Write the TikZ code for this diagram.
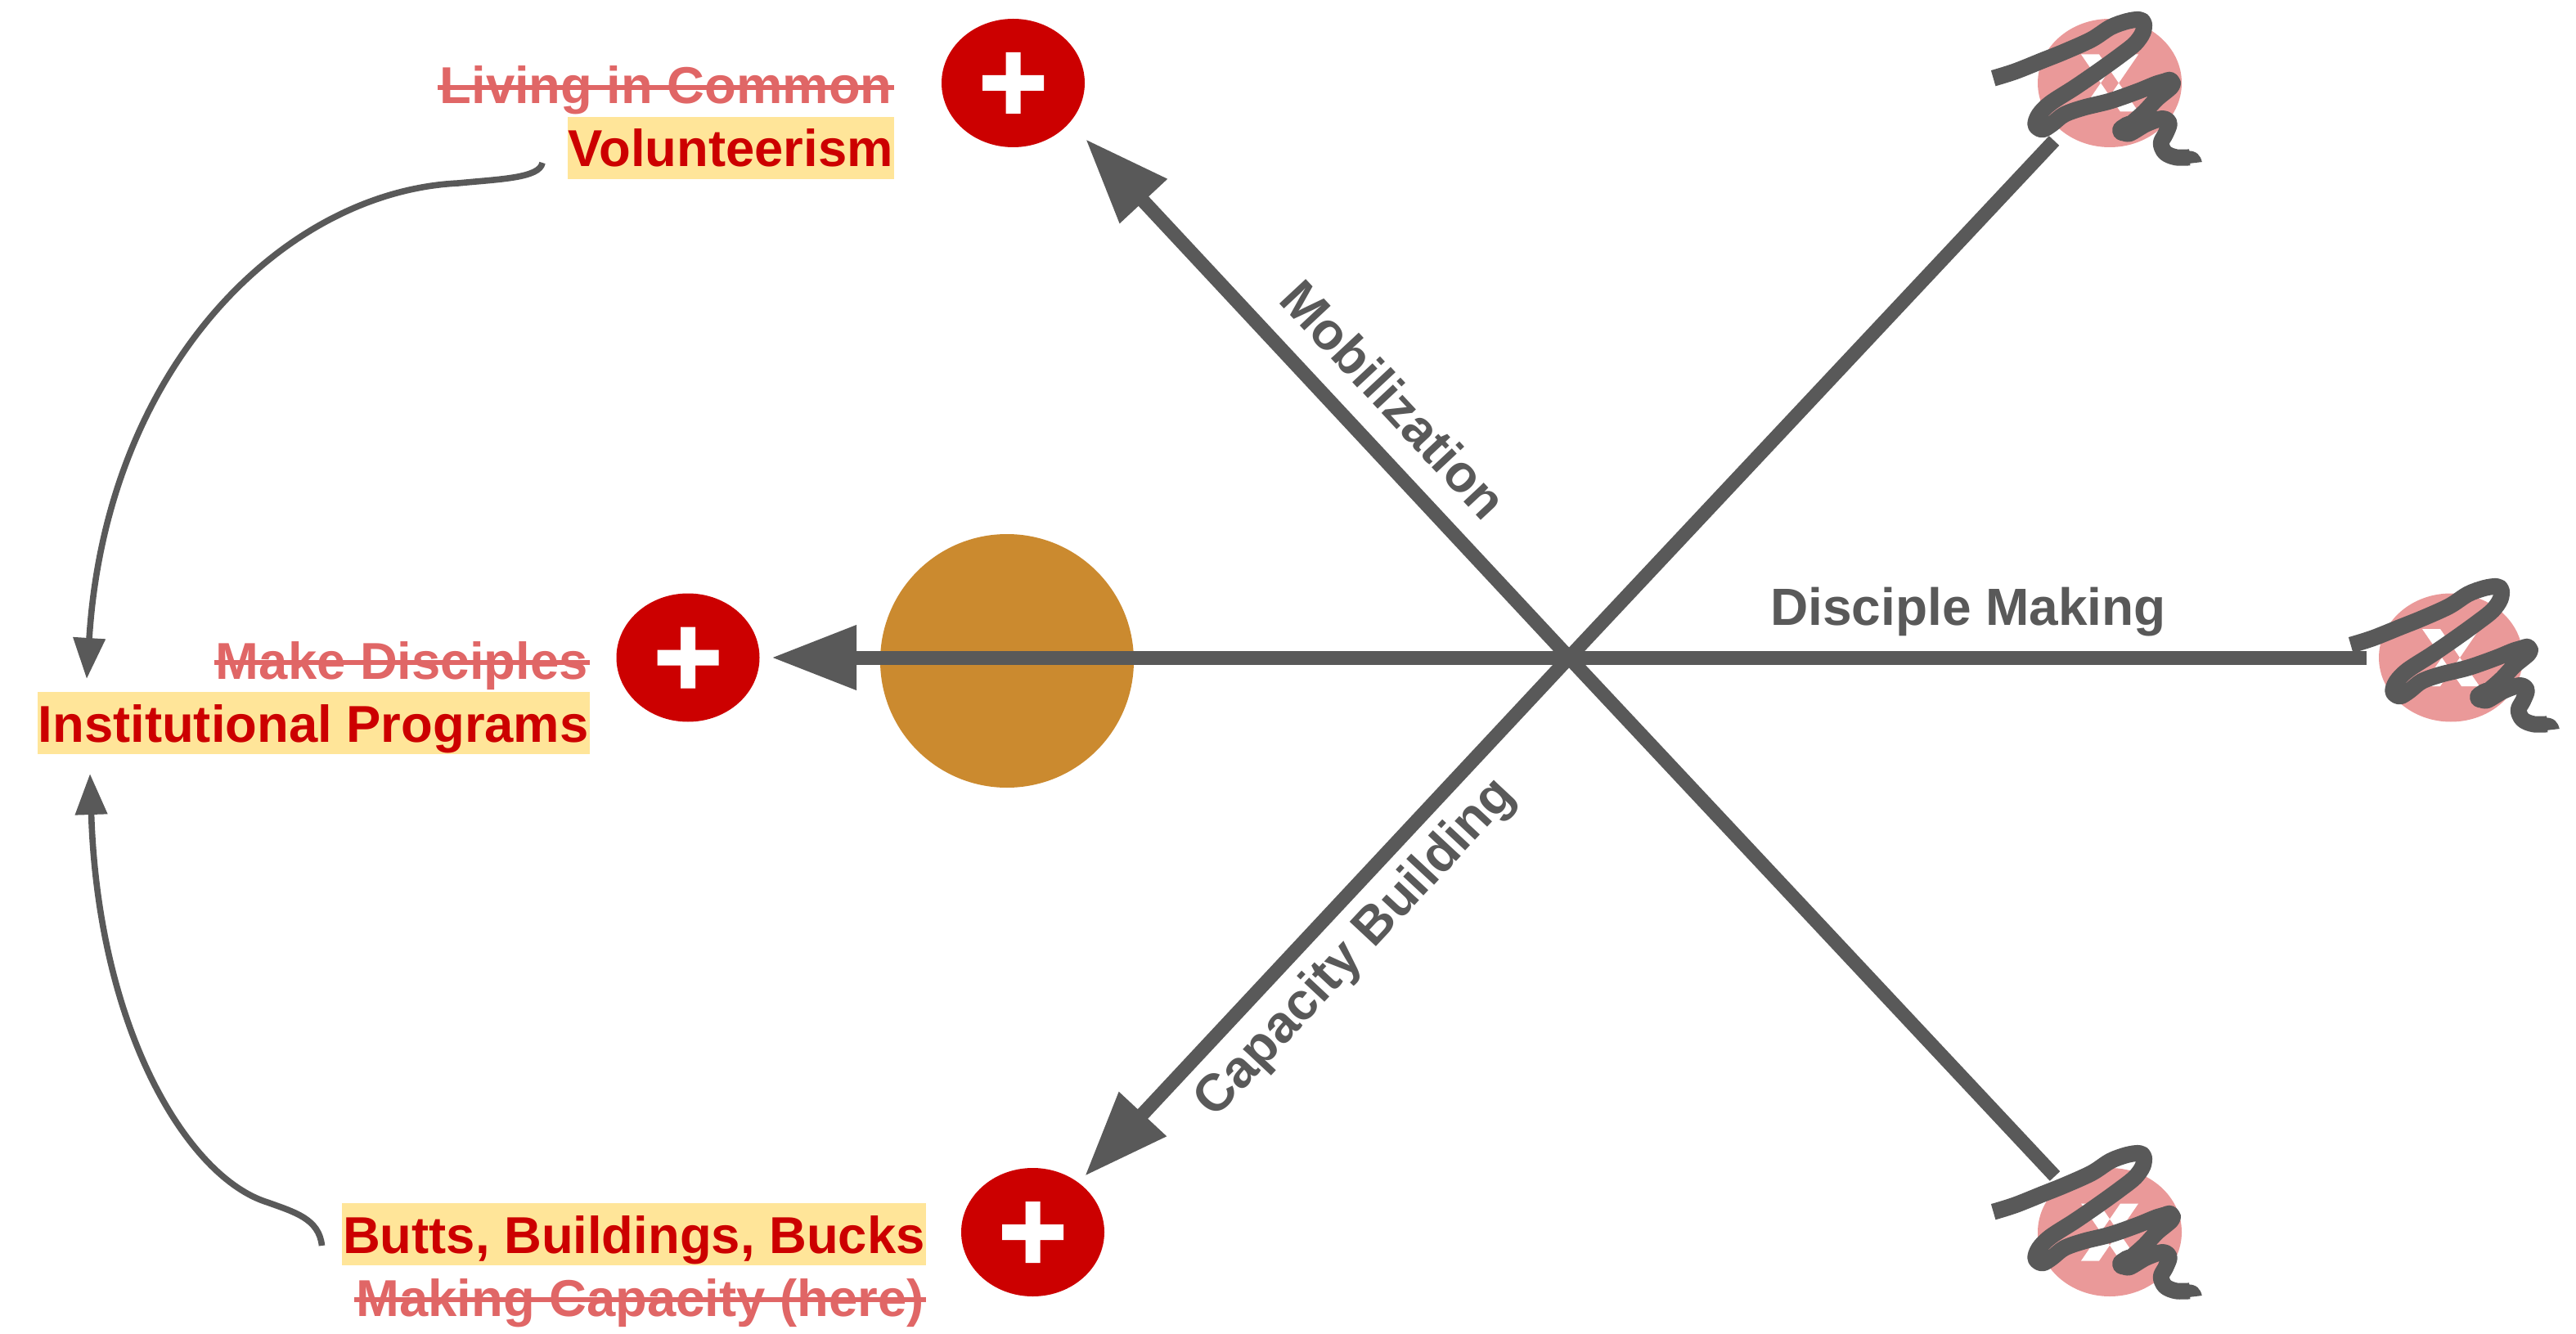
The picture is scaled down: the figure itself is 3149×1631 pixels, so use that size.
\documentclass[tikz,border=0pt]{standalone}
\usepackage{fontspec}
\setmainfont{Liberation Sans}
\usetikzlibrary{arrows.meta,shapes.geometric,calc}
\definecolor{gr}{HTML}{595959}
\definecolor{rd}{HTML}{CC0000}
\definecolor{st}{HTML}{E06666}
\definecolor{pk}{HTML}{EA9999}
\definecolor{hl}{HTML}{FFE599}
\definecolor{orng}{HTML}{CB8A2F}
\tikzset{
  x=0.5pt,y=-0.5pt,
  redc/.style={ellipse,fill=rd,minimum width=87.5pt,minimum height=78.5pt,inner sep=0pt},
  pinkc/.style={ellipse,fill=pk,minimum width=88pt,minimum height=78.5pt,inner sep=0pt},
  hilite/.style={fill=hl,text=rd,font=\fontsize{31.7pt}{36pt}\selectfont\bfseries,anchor=base east,inner xsep=0.5pt,inner ysep=0pt,text height=30.5pt,text depth=7.5pt},
  struck/.style={text=st,font=\fontsize{31.7pt}{36pt}\selectfont\bfseries,anchor=base east,inner xsep=1pt,inner ysep=0pt},
  strike/.style={draw=st,line width=3pt},
  axis/.style={draw=gr,line width=8.5pt},
  axisarrow/.style={axis,-{Triangle[length=52pt,width=37.5pt]}},
  curvearrow/.style={draw=gr,line width=3.8pt,-{Triangle[length=25pt,width=19pt]}},
  lab/.style={text=gr,font=\fontsize{32pt}{36pt}\selectfont\bfseries,inner sep=0pt},
  scrib/.style={draw=gr,line width=10pt,line join=round},
  plusmark/.pic={\fill[white] (-37.5,-9.5) rectangle (37.5,9.5) (-9,-37.5) rectangle (9,37.5);},
  xmark/.pic={\fill[white] (-35,-35) -- (-13,-35) -- (35,35) -- (13,35) -- cycle (35,-35) -- (13,-35) -- (-35,35) -- (-13,35) -- cycle;},
  scribble/.pic={
    \begin{scope}[x=0.1667pt,y=-0.1667pt]
    \draw[scrib] plot[smooth,tension=0.55] coordinates {(170,287) (250,262) (350,222) (430,190) (530,145) (600,100) (660,78) (705,72) (722,85) (718,120) (690,160) (640,200) (560,258) (470,320) (380,378) (338,420) (325,458) (350,475) (385,455) (430,420) (500,395) (600,370) (700,335) (775,305) (822,297) (822,318) (770,362) (725,410) (680,450) (645,478) (668,490) (730,455) (790,435) (815,452) (802,490) (785,525) (800,560) (840,577) (890,577)};
    \fill[gr] (885,553) .. controls (915,553) and (930,570) .. (935,594) -- (885,600) -- cycle;
    \draw[gr,line width=13pt,line cap=round] (665,465) -- (645,478);
    \draw[gr,line width=13pt,line cap=round] (795,310) -- (815,302);
    \end{scope}}
}
\begin{document}
\begin{tikzpicture}
\useasboundingbox (0,0) rectangle (3149,1631);
% hub and line ends
\coordinate (hub) at (1918,804);
\coordinate (endUR) at (2511,172);
\coordinate (endR) at (2893,804);
\coordinate (endLR) at (2512,1438);
\coordinate (tipUL) at (1327,170);
\coordinate (tipL) at (943,804);
\coordinate (tipLL) at (1326,1438);
% orange disc
\node[circle,fill=orng,minimum size=155pt,inner sep=0pt] (disc) at (1231,808) {};
% red circles
\node[redc] (rtop) at (1238.5,101.5) {};
\node[redc] (rmid) at (841,804) {};
\node[redc] (rbot) at (1262.5,1506.5) {};
\pic at (rtop) {plusmark};
\pic at (rmid) {plusmark};
\pic at (rbot) {plusmark};
% pink circles
\node[pinkc] (ptop) at (2579,101.5) {};
\node[pinkc] (pmid) at (2996,804) {};
\node[pinkc] (pbot) at (2579,1506.5) {};
\pic at (ptop) {xmark};
\pic at (pmid) {xmark};
\pic at (pbot) {xmark};
% axes
\draw[axisarrow] (hub) -- (tipUL);
\draw[axisarrow] (hub) -- (tipL);
\draw[axisarrow] (hub) -- (tipLL);
\draw[axis] (hub) -- (endUR);
\draw[axis] (hub) -- (endR);
\draw[axis] (hub) -- (endLR);
% scribbles
\pic at (2380,0) {scribble};
\pic at (2817,693) {scribble};
\pic at (2380,1386) {scribble};
% labels on axes
\node[lab,rotate=-47] (lmob) at (1704,488) {Mobilization};
\node[lab] (ldm) at (2406,748) {Disciple Making};
\node[lab,rotate=47] (lcap) at (1658,1160) {Capacity Building};
% texts
\node[struck] (living) at (1093,127) {Living in Common};
\draw[strike] ($(living.base west)+(0,-20)$) -- ($(living.base east)+(0,-20)$);
\node[hilite] (vol) at (1093,204) {Volunteerism};
\node[struck] (make) at (721,830) {Make Disciples};
\draw[strike] ($(make.base west)+(0,-20)$) -- ($(make.base east)+(0,-20)$);
\node[hilite] (inst) at (721,907) {Institutional Programs};
\node[hilite] (butts) at (1132,1532) {Butts, Buildings, Bucks};
\node[struck] (cap) at (1132,1609) {Making Capacity (here)};
\draw[strike] ($(cap.base west)+(0,-20)$) -- ($(cap.base east)+(0,-20)$);
% curved connectors
\coordinate (cv1) at (663,199);
\coordinate (tipI1) at (106,830);
\coordinate (cv2) at (393.5,1523);
\coordinate (tipI2) at (110,946);
\draw[curvearrow] (cv1) .. controls (660,218) and (610,219) .. (560,224) .. controls (350,234) and (130,445) .. (tipI1);
\draw[curvearrow] (cv2) .. controls (390,1490) and (360,1482) .. (327,1470) .. controls (230,1440) and (120,1260) .. (tipI2);
\end{tikzpicture}
\end{document}
